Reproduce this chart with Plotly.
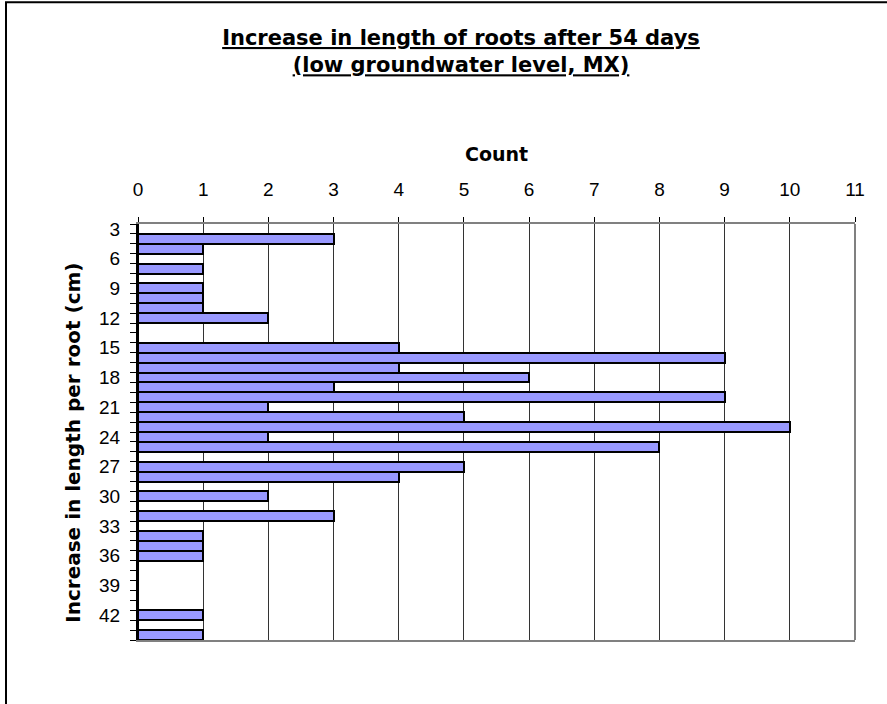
import plotly.graph_objects as go

# ==========================================
# Data
# ==========================================
LENGTH_CM = list(range(3, 45))
COUNTS = [
    0, 3, 1, 0, 1, 0, 1, 1, 1, 2,      # 3-12
    0, 0, 4, 9, 4, 6, 3, 9, 2, 5,      # 13-22
    10, 2, 8, 0, 5, 4, 0, 2, 0, 3,     # 23-32
    0, 1, 1, 1, 0, 0, 0, 0, 0, 1,      # 33-42
    0, 1,                              # 43-44
]
Y_TICK_LABELS = list(range(3, 43, 3))
X_TICKS = list(range(0, 12))

# ==========================================
# Colors / fonts
# ==========================================
COLOR_BAR = "#9999FF"
COLOR_GRID = "#333333"
COLOR_FRAME = "#808080"
FONT_TICK = "Liberation Sans, Arial, sans-serif"
FONT_BOLD = "DejaVu Sans, Arial, sans-serif"

fig = go.Figure()

fig.add_trace(
    go.Bar(
        x=COUNTS,
        y=LENGTH_CM,
        orientation="h",
        width=1,
        marker=dict(
            color=COLOR_BAR,
            line=dict(color="black", width=2)
        ),
        showlegend=False
    )
)

fig.update_layout(
    width=887,
    height=704,
    plot_bgcolor="white",
    paper_bgcolor="white",
    bargap=0,
    margin=dict(l=138, r=32, t=224, b=64),
    title=dict(
        text="<b><u>Increase in length of roots after 54 days</u></b><br>"
             "<b><u>(low groundwater level, MX)</u></b>",
        x=461 / 887,
        xanchor="center",
        xref="container",
        y=1 - 45 / 704,
        yanchor="top",
        yref="container",
        font=dict(family=FONT_BOLD, size=21, color="black")
    )
)

fig.update_xaxes(
    side="top",
    range=[0, 11],
    tickmode="array",
    tickvals=X_TICKS,
    ticks="outside",
    ticklen=5,
    tickcolor="black",
    ticklabelstandoff=13,
    tickfont=dict(family=FONT_TICK, size=19, color="black"),
    showgrid=True,
    gridcolor=COLOR_GRID,
    gridwidth=1,
    zeroline=False,
    showline=True,
    linecolor=COLOR_FRAME,
    linewidth=2,
    mirror=True
)

fig.update_yaxes(
    range=[44.5, 2.5],
    tickmode="array",
    tickvals=Y_TICK_LABELS,
    ticks="",
    ticklabelstandoff=12,
    tickfont=dict(family=FONT_TICK, size=19, color="black"),
    minor=dict(
        tick0=2.5,
        dtick=1,
        ticks="outside",
        ticklen=6,
        tickcolor="black",
        showgrid=False
    ),
    showgrid=False,
    zeroline=False,
    showline=True,
    linecolor="black",
    linewidth=2
)

# right edge of the plot area in grey
fig.add_shape(
    type="line",
    xref="paper", yref="paper",
    x0=1, x1=1, y0=0, y1=1,
    line=dict(color=COLOR_FRAME, width=2)
)

# outer chart frame (cut off at right / bottom)
fig.add_shape(
    type="rect",
    xref="paper", yref="paper",
    x0=(6 - 138) / 717, x1=1.2,
    y0=-0.3, y1=(640 - 3) / 415.5,
    line=dict(color="black", width=2)
)

# axis titles
fig.add_annotation(
    text="<b>Count</b>",
    xref="paper", yref="paper",
    x=0.5, y=(640 - 155) / 415.5,
    xanchor="center", yanchor="middle",
    showarrow=False,
    font=dict(family=FONT_BOLD, size=19, color="black")
)

fig.add_annotation(
    text="<b>Increase in length per root (cm)</b>",
    xref="paper", yref="paper",
    x=(73 - 138) / 717, y=(640 - 443) / 415.5,
    xanchor="center", yanchor="middle",
    textangle=-90,
    showarrow=False,
    font=dict(family=FONT_BOLD, size=20, color="black")
)

# drop the default page margin so the figure sits at the window origin
fig.write_html(
    "out.html",
    config={"displayModeBar": False},
    post_script="document.body.style.margin='0';"
)
